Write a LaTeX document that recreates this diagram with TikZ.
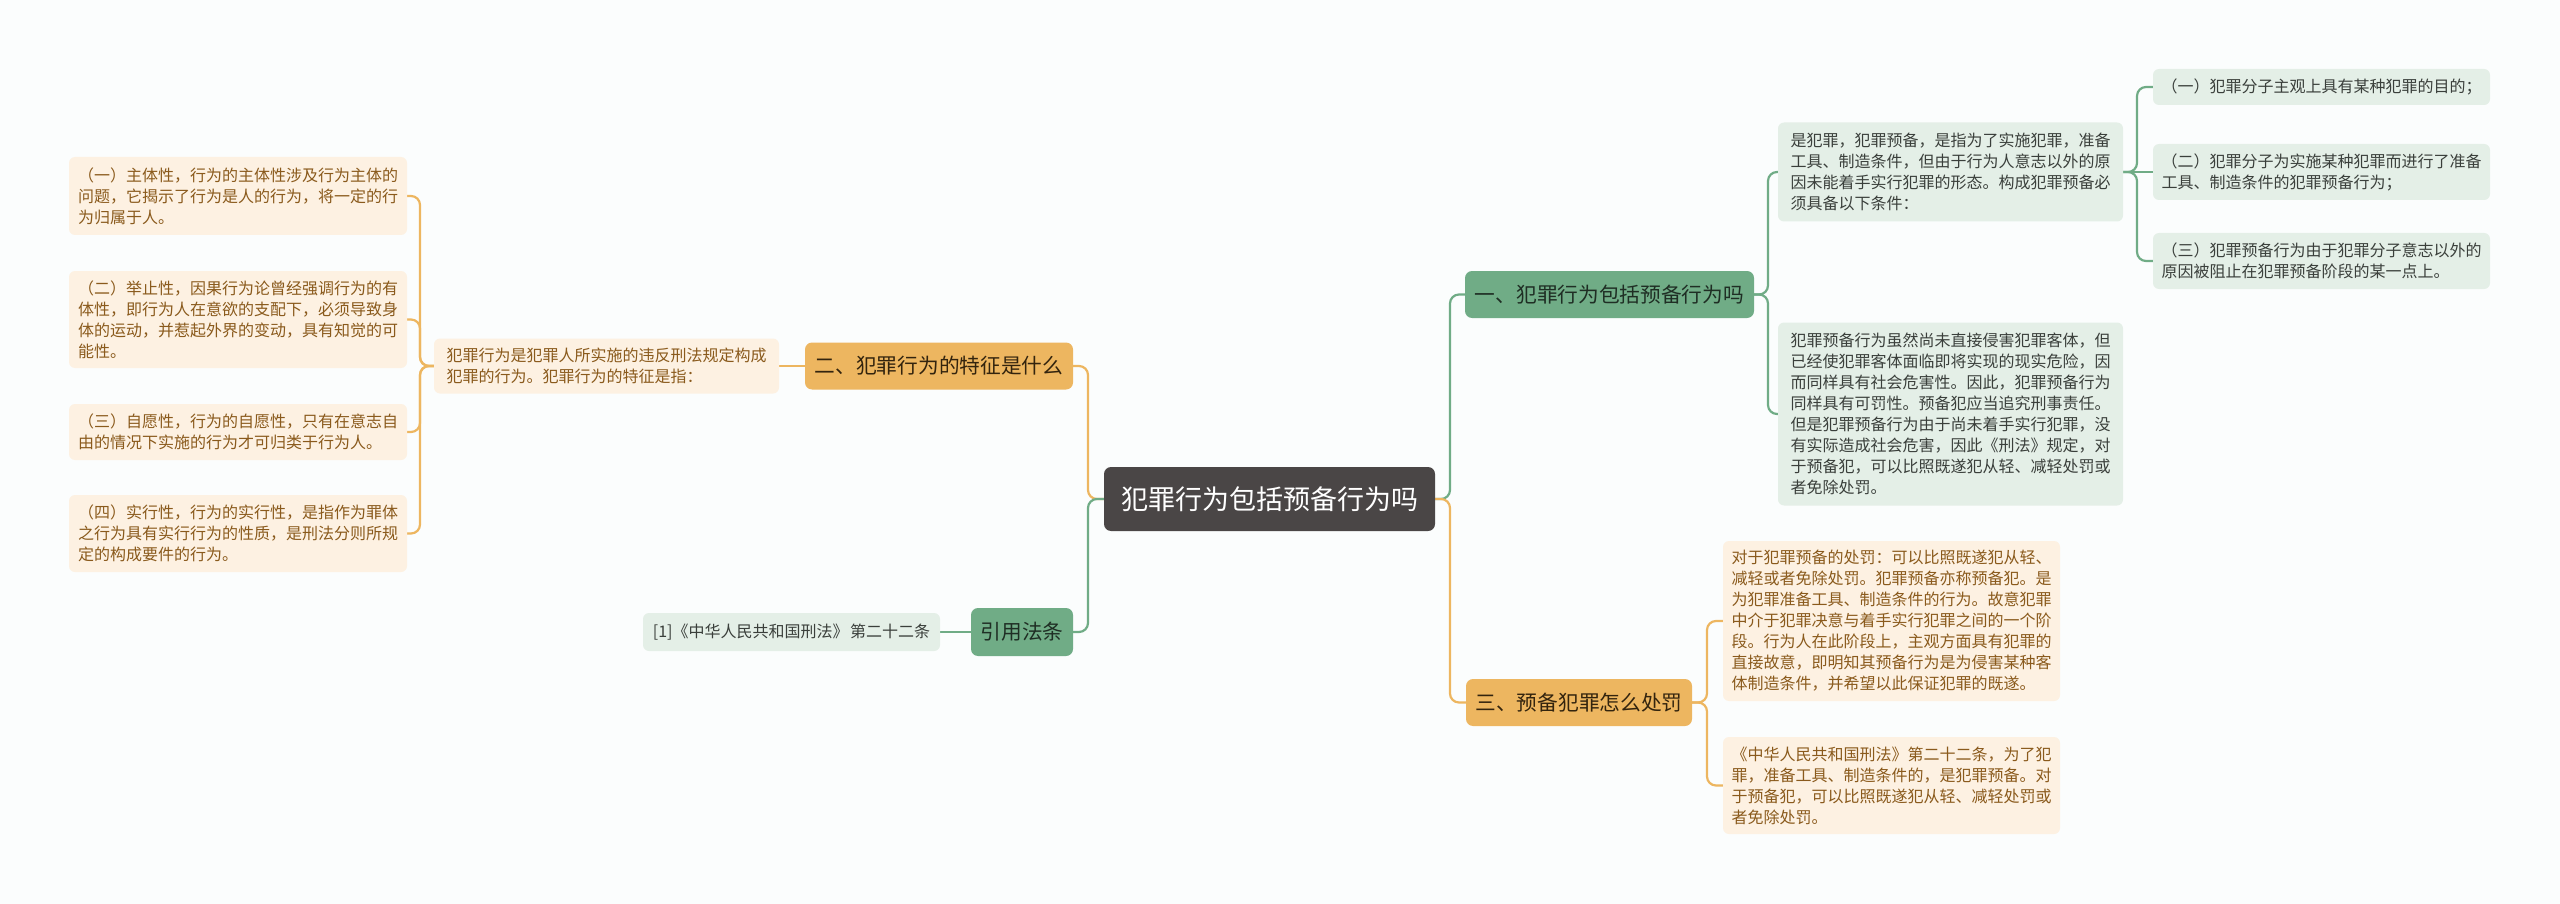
\documentclass[tikz,border=0pt]{standalone}
\usepackage{fontspec}
\setmainfont{Noto Sans CJK SC}
\usetikzlibrary{backgrounds}
\definecolor{bgc}{HTML}{FBFDFD}
\definecolor{ctr}{HTML}{4A4646}
\definecolor{gmain}{HTML}{70AC86}
\definecolor{omain}{HTML}{EDB660}
\definecolor{gleaf}{HTML}{E4EFE7}
\definecolor{oleaf}{HTML}{FDF1E2}
\definecolor{gtext}{HTML}{3A3F3B}
\definecolor{otext}{HTML}{8A5A1C}
\definecolor{gbtext}{HTML}{1F2E24}
\definecolor{obtext}{HTML}{33240E}
\tikzset{
  ctrbox/.style={fill=ctr, text=white, rounded corners=7pt, inner sep=0pt,
    minimum width=331pt, minimum height=64pt, font=\fontsize{27}{32}\selectfont},
  gbranch/.style={fill=gmain, text=gbtext, rounded corners=7pt, inner sep=0pt,
    minimum height=47pt, font=\fontsize{20.7}{25}\selectfont},
  obranch/.style={fill=omain, text=obtext, rounded corners=7pt, inner sep=0pt,
    minimum height=47pt, font=\fontsize{20.7}{25}\selectfont},
  leaf/.style={rounded corners=6pt, inner xsep=0pt, inner ysep=0pt, align=left,
    text width=320pt, font=\fontsize{16}{21}\selectfont},
  gleafbox/.style={leaf, fill=gleaf, text=gtext},
  oleafbox/.style={leaf, fill=oleaf, text=otext},
  refbox/.style={rounded corners=6pt, inner xsep=0pt, inner ysep=0pt,
    fill=gleaf, text=gtext, font=\fontsize{16}{21}\selectfont},
  gline/.style={draw=gmain, line width=2.2pt, rounded corners=9pt},
  oline/.style={draw=omain, line width=2.2pt, rounded corners=9pt}
}
\begin{document}
\begin{tikzpicture}[x=1pt,y=-1pt]
\useasboundingbox (0,0) rectangle (2560,904);
% root
\node[ctrbox] (root) at (1269.5,499) {犯罪行为包括预备行为吗};
% branches
\node[gbranch, minimum width=289pt] (yi) at (1609.5,294.5) {一、犯罪行为包括预备行为吗};
\node[obranch, minimum width=268pt] (er) at (939,366) {二、犯罪行为的特征是什么};
\node[obranch, minimum width=226pt] (san) at (1579,702.5) {三、预备犯罪怎么处罚};
\node[gbranch, minimum width=102pt, minimum height=48pt] (yy) at (1022,632) {引用法条};
% 引用 child
\node[refbox, minimum width=297pt, minimum height=38pt] (ref) at (791.5,632) {[1]《中华人民共和国刑法》\hspace{-2pt} 第二十二条};
% 二 child
\node[oleafbox, minimum width=345pt, minimum height=55pt] (p) at (606.5,366) {犯罪行为是犯罪人所实施的违反刑法规定构成\\犯罪的行为。犯罪行为的特征是指：};
\node[oleafbox, minimum width=338pt, minimum height=78pt] (l1) at (238,196) {（一）主体性，行为的主体性涉及行为主体的\\问题，它揭示了行为是人的行为，将一定的行\\为归属于人。};
\node[oleafbox, minimum width=338pt, minimum height=97pt] (l2) at (238,319.5) {（二）举止性，因果行为论曾经强调行为的有\\体性，即行为人在意欲的支配下，必须导致身\\体的运动，并惹起外界的变动，具有知觉的可\\能性。};
\node[oleafbox, minimum width=338pt, minimum height=56pt] (l3) at (238,432) {（三）自愿性，行为的自愿性，只有在意志自\\由的情况下实施的行为才可归类于行为人。};
\node[oleafbox, minimum width=338pt, minimum height=77pt] (l4) at (238,533.5) {（四）实行性，行为的实行性，是指作为罪体\\之行为具有实行行为的性质，是刑法分则所规\\定的构成要件的行为。};
% 一 children
\node[gleafbox, minimum width=345pt, minimum height=99pt] (a) at (1950.5,172) {是犯罪，犯罪预备，是指为了实施犯罪，准备\\工具、制造条件，但由于行为人意志以外的原\\因未能着手实行犯罪的形态。构成犯罪预备必\\须具备以下条件：};
\node[gleafbox, minimum width=345pt, minimum height=183pt] (b) at (1950.5,414) {犯罪预备行为虽然尚未直接侵害犯罪客体，但\\已经使犯罪客体面临即将实现的现实危险，因\\而同样具有社会危害性。因此，犯罪预备行为\\同样具有可罚性。预备犯应当追究刑事责任。\\但是犯罪预备行为由于尚未着手实行犯罪，没\\有实际造成社会危害，因此《刑法》规定，对\\于预备犯，可以比照既遂犯从轻、减轻处罚或\\者免除处罚。};
\node[gleafbox, minimum width=337pt, minimum height=36pt] (c1) at (2321.5,87) {（一）犯罪分子主观上具有某种犯罪的目的；};
\node[gleafbox, minimum width=337pt, minimum height=56pt] (c2) at (2321.5,172) {（二）犯罪分子为实施某种犯罪而进行了准备\\工具、制造条件的犯罪预备行为；};
\node[gleafbox, minimum width=337pt, minimum height=56pt] (c3) at (2321.5,261) {（三）犯罪预备行为由于犯罪分子意志以外的\\原因被阻止在犯罪预备阶段的某一点上。};
% 三 children
\node[oleafbox, minimum width=337pt, minimum height=160pt] (d1) at (1891.5,621) {对于犯罪预备的处罚：可以比照既遂犯从轻、\\减轻或者免除处罚。犯罪预备亦称预备犯。是\\为犯罪准备工具、制造条件的行为。故意犯罪\\中介于犯罪决意与着手实行犯罪之间的一个阶\\段。行为人在此阶段上，主观方面具有犯罪的\\直接故意，即明知其预备行为是为侵害某种客\\体制造条件，并希望以此保证犯罪的既遂。};
\node[oleafbox, minimum width=337pt, minimum height=97pt] (d2) at (1891.5,785.5) {《中华人民共和国刑法》第二十二条，为了犯\\罪，准备工具、制造条件的，是犯罪预备。对\\于预备犯，可以比照既遂犯从轻、减轻处罚或\\者免除处罚。};
\begin{scope}[on background layer]
\fill[bgc] (0,0) rectangle (2560,904);
% root connectors
\draw[gline] (root.center) -- (1450,499) |- (yi.west);
\draw[oline] (root.center) -- (1450,499) |- (san.west);
\draw[oline] (root.center) -- (1088,499) |- (er.east);
\draw[gline] (root.center) -- (1088,499) |- (yy.east);
% 一
\draw[gline] (yi.east) -- (1768,294.5) |- (a.west);
\draw[gline] (yi.east) -- (1768,294.5) |- (b.west);
\draw[gline] (a.east) -- (2137,172) |- (c1.west);
\draw[gline] (a.east) -- (c2.west);
\draw[gline] (a.east) -- (2137,172) |- (c3.west);
% 三
\draw[oline] (san.east) -- (1707,702.5) |- (d1.west);
\draw[oline] (san.east) -- (1707,702.5) |- (d2.west);
% 二
\draw[oline] (er.west) -- (p.east);
\draw[oline] (p.west) -- (420,366) |- (l1.east);
\draw[oline] (p.west) -- (420,366) |- (l2.east);
\draw[oline] (p.west) -- (420,366) |- (l3.east);
\draw[oline] (p.west) -- (420,366) |- (l4.east);
% 引用
\draw[gline] (yy.west) -- (ref.east);
\end{scope}
\end{tikzpicture}
\end{document}
